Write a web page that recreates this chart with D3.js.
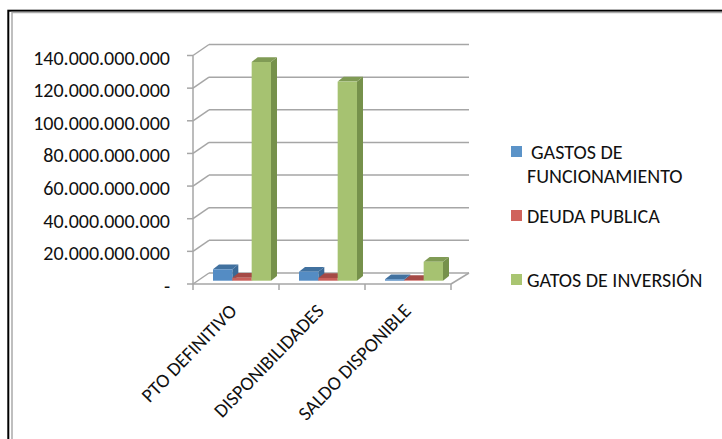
<!DOCTYPE html>
<html>
<head>
<meta charset="utf-8">
<script src="https://cdn.jsdelivr.net/npm/d3@7"></script>
<style>
html, body { margin: 0; padding: 0; background: #fff; }
svg { display: block; }
text { font-family: Carlito, "Open Sans", "Noto Sans", sans-serif; fill: #111; }
</style>
</head>
<body>
<div id="chart"></div>
<script>
const categories = ['PTO DEFINITIVO', 'DISPONIBILIDADES', 'SALDO DISPONIBLE'];
const funcionamiento = [7000000000, 5500000000, 900000000];
const deuda = [1800000000, 1700000000, 400000000];
const inversion = [134000000000, 122000000000, 11600000000];
const yTicks = [0, 20000000000, 40000000000, 60000000000, 80000000000, 100000000000, 120000000000, 140000000000];

const width = 722, height = 439;
const depthX = 16, depthY = 11; // back wall offset
const barDepthX = 6, barDepthY = 4.8;

const svg = d3.select('#chart').append('svg')
    .attr('width', width)
    .attr('height', height);

// frame, only left and top show in the picture
svg.append('rect').attr('x', 8.3).attr('y', 10.7).attr('width', width + 20).attr('height', height + 20)
    .attr('fill', 'none').attr('stroke', '#000').attr('stroke-width', 2);
svg.append('path').attr('d', 'M12,' + height + 'V12.5H' + width)
    .attr('fill', 'none').attr('stroke', '#aaa').attr('stroke-width', 1.5);

const x = d3.scaleBand().domain(categories).range([193, 451]);
const y = d3.scaleLinear().domain([0, 140000000000]).range([284, 55.5]);
const fmt = v => v === 0 ? '-' : d3.format(',')(v).replace(/,/g, '.');

const grid = svg.append('g').attr('class', 'grid');
const gridColor = '#a6a6a6';
const gridWidth = 1.5;

// back wall gridlines + side wall diagonals
yTicks.forEach(t => {
    grid.append('line')
        .attr('x1', 193 + depthX).attr('x2', 469)
        .attr('y1', y(t) - depthY).attr('y2', y(t) - depthY)
        .attr('stroke', gridColor).attr('stroke-width', gridWidth);
    grid.append('line')
        .attr('x1', 193).attr('x2', 193 + depthX)
        .attr('y1', y(t)).attr('y2', y(t) - depthY)
        .attr('stroke', gridColor).attr('stroke-width', gridWidth);
    grid.append('line')
        .attr('x1', 187).attr('x2', 193)
        .attr('y1', y(t)).attr('y2', y(t))
        .attr('stroke', gridColor).attr('stroke-width', gridWidth);
    svg.append('text')
        .attr('x', 170).attr('y', y(t) + 9)
        .attr('text-anchor', 'end')
        .attr('font-size', 20)
        .text(fmt(t));
});

// value axis and floor
grid.append('line').attr('x1', 193).attr('x2', 193).attr('y1', y(140000000000)).attr('y2', 284)
    .attr('stroke', gridColor).attr('stroke-width', gridWidth);
grid.append('line').attr('x1', 193).attr('x2', 451).attr('y1', 284).attr('y2', 284)
    .attr('stroke', gridColor).attr('stroke-width', gridWidth);
grid.append('line').attr('x1', 451).attr('x2', 469).attr('y1', 284).attr('y2', 273)
    .attr('stroke', gridColor).attr('stroke-width', gridWidth);
[193].concat(categories.map(c => x(c) + x.bandwidth())).forEach(px => {
    grid.append('line').attr('x1', px).attr('x2', px).attr('y1', 284).attr('y2', 290)
        .attr('stroke', gridColor).attr('stroke-width', gridWidth);
});

// bars
const palette = [
    {front: '#548cc4', top: '#41719f', side: '#3b6a97', key: '#5b93c8'},
    {front: '#c9605a', top: '#a54a46', side: '#96403c', key: '#d0635c'},
    {front: '#a6c271', top: '#809b55', side: '#76914b', key: '#a9c571'}
];
const seriesValues = [funcionamiento, deuda, inversion];
const inner = d3.scaleBand().domain(d3.range(3)).range([0, 58]);
const barBase = y(0) - 3.3;
const h = v => y(0) - y(v);

categories.forEach((c, ci) => {
    const gx = x(c) + 20;
    seriesValues.forEach((vals, si) => {
        const v = vals[ci];
        const bx = gx + inner(si), bw = inner.bandwidth();
        const topY = barBase - h(v);
        const colors = palette[si];
        const g = svg.append('g').attr('class', 'bar');
        g.append('path')
            .attr('d', d3.line()([[bx + bw, topY], [bx + bw + barDepthX, topY - barDepthY], [bx + bw + barDepthX, barBase - barDepthY], [bx + bw, barBase]]))
            .attr('fill', colors.side);
        g.append('path')
            .attr('d', d3.line()([[bx, topY], [bx + barDepthX, topY - barDepthY], [bx + bw + barDepthX, topY - barDepthY], [bx + bw, topY]]))
            .attr('fill', colors.top);
        g.append('rect')
            .attr('x', bx).attr('y', topY)
            .attr('width', bw).attr('height', barBase - topY)
            .attr('fill', colors.front);
    });
});

// category labels
categories.forEach((c, i) => {
    const px = x(c) + x.bandwidth() / 2 + 2 + i;
    svg.append('text')
        .attr('transform', 'translate(' + px + ',312) rotate(-46)')
        .attr('text-anchor', 'end')
        .attr('font-size', 19.5)
        .text(c);
});

// legend
const legendRows = [
    {lines: ['GASTOS DE', 'FUNCIONAMIENTO'], y: 146, base: [159, 183]},
    {lines: ['DEUDA PUBLICA'], y: 210, base: [223]},
    {lines: ['GATOS DE INVERSIÓN'], y: 274, base: [287]}
];
legendRows.forEach((row, i) => {
    svg.append('rect').attr('x', 511).attr('y', row.y).attr('width', 11).attr('height', 11)
        .attr('fill', palette[i].key);
    row.lines.forEach((line, li) => {
        svg.append('text')
            .attr('x', li === 0 && row.lines.length > 1 ? 531 : 527)
            .attr('y', row.base[li])
            .attr('font-size', 20)
            .text(line);
    });
});
</script>
</body>
</html>
